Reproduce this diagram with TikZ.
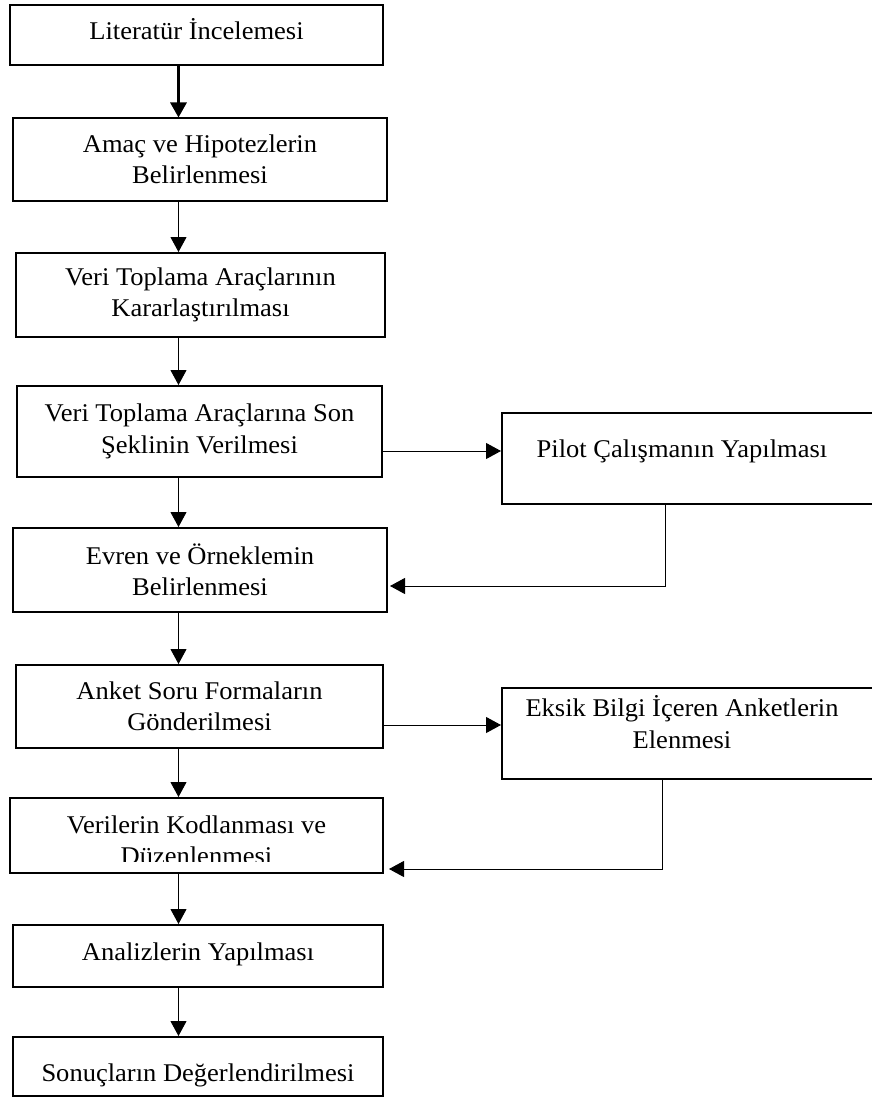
\documentclass[tikz,border=0pt]{standalone}
\usepackage{fontspec}
\setmainfont{Liberation Serif}[FakeStretch=1.04]
\usetikzlibrary{arrows.meta}

\begin{document}
\begin{tikzpicture}[x=1pt,y=-1pt,
		box/.style={draw,line width=2pt,inner sep=0pt,align=center,font=\fontsize{25.5}{31.5}\selectfont},
		arr/.style={line width=1pt,-{Triangle[length=15pt,width=16pt]}}]
		\useasboundingbox (0,0) rectangle (872,1097);
		\coordinate (spine) at (178.5,0);
		\node[box,minimum width=373pt,minimum height=60pt,text height=10pt,text depth=0pt] (lit) at (196.5,35) {Literatür İncelemesi};
		\node[box,minimum width=374pt,minimum height=82pt] (amac) at (200,159.5) {Amaç ve Hipotezlerin\\Belirlenmesi};
		\node[box,minimum width=369pt,minimum height=84pt] (arac) at (200.5,295) {Veri Toplama Araçlarının\\Kararlaştırılması};
		\node[box,minimum width=365pt,minimum height=91pt] (son) at (199.5,431.5) {Veri Toplama Araçlarına Son\\Şeklinin Verilmesi};
		\node[box,minimum width=390pt,minimum height=91pt,text height=16pt,text depth=19pt] (pilot) at (697,458.5) {\hspace*{-30pt}Pilot Çalışmanın Yapılması};
		\node[box,minimum width=374pt,minimum height=84pt] (evren) at (200,570) {Evren ve Örneklemin\\Belirlenmesi};
		\node[box,minimum width=367pt,minimum height=83pt] (anket) at (199.5,706.5) {Anket Soru Formaların\\Gönderilmesi};
		\node[box,minimum width=390pt,minimum height=91pt,text height=47.5pt,text depth=18.5pt] (eksik) at (697,733.5) {\hspace*{-30pt}Eksik Bilgi İçeren Anketlerin\\\hspace*{-30pt}Elenmesi};
		\node[box,minimum width=373pt,minimum height=75pt,text height=58pt,text depth=0pt] (veri) at (196.5,835.5) {Verilerin Kodlanması ve\\Düzenlenmesi};
		\fill[white] (11.5,862) rectangle (381.5,871.8);
		\node[box,minimum width=370pt,minimum height=62pt,text height=8pt,text depth=0pt] (analiz) at (198,956) {Analizlerin Yapılması};
		\node[box,minimum width=370pt,minimum height=59pt,text height=30pt,text depth=0pt] (sonuc) at (198,1066.5) {Sonuçların Değerlendirilmesi};
		\draw[arr,line width=3pt] (lit.south -| spine) -- (amac.north -| spine);
		\draw[arr] (amac.south -| spine) -- (arac.north -| spine);
		\draw[arr] (arac.south -| spine) -- (son.north -| spine);
		\draw[arr] (son.south -| spine) -- (evren.north -| spine);
		\draw[arr] (evren.south -| spine) -- (anket.north -| spine);
		\draw[arr] (anket.south -| spine) -- (veri.north -| spine);
		\draw[arr] (veri.south -| spine) -- (analiz.north -| spine);
		\draw[arr] (analiz.south -| spine) -- (sonuc.north -| spine);
		\coordinate (sp) at ([yshift=-19.5pt]son.east);
		\draw[arr] (sp) -- (sp -| pilot.west);
		\draw[arr,shorten >=2pt] ([xshift=-32pt]pilot.south) |- ([yshift=-16pt]evren.east);
		\coordinate (ak) at ([yshift=-18.5pt]anket.east);
		\draw[arr] (ak) -- (ak -| eksik.west);
		\draw[arr,shorten >=5pt] ([xshift=-35pt]eksik.south) |- ([yshift=-33.5pt]veri.east);
\end{tikzpicture}
\end{document}
